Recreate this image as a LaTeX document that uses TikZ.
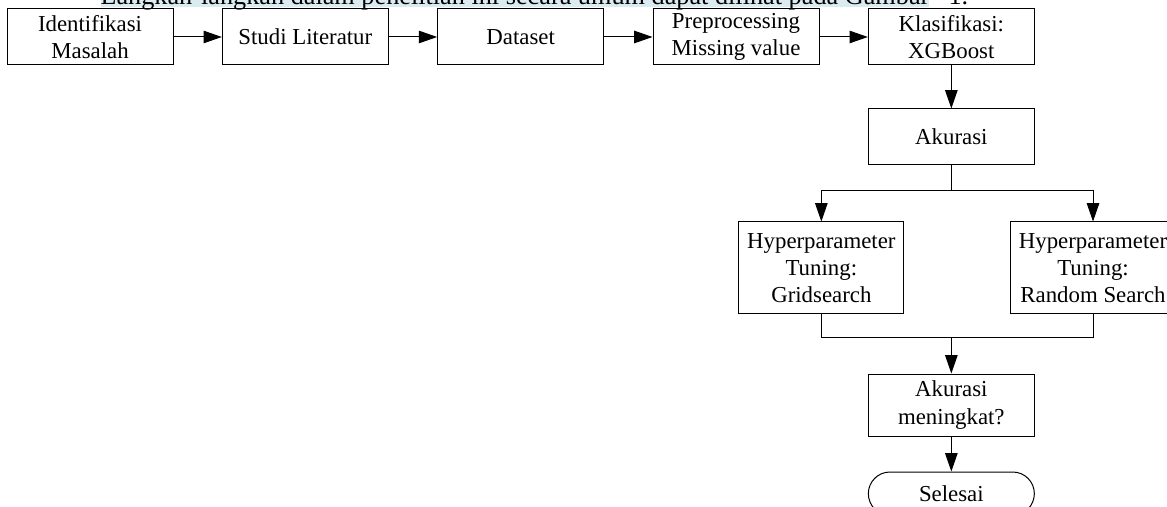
\documentclass[tikz,border=0pt]{standalone}
\usepackage{fontspec}
\setmainfont{Liberation Serif}
\usetikzlibrary{positioning, arrows.meta, calc}
\definecolor{hilite}{RGB}{218,235,241}

\begin{document}
\begin{tikzpicture}[node distance=29pt, line width=0.6pt,
    box/.style={draw, rectangle, minimum width=99.6pt, minimum height=33.6pt,
      align=center, inner sep=2pt, font=\fontsize{13.7}{16.3}\selectfont},
    endbox/.style={box, rounded corners=13pt, minimum height=26pt},
    arr/.style={-{Triangle[length=11pt,width=7.5pt]}}]
  \useasboundingbox (0,0) rectangle (700.2pt,-304.2pt);

  % cut-off sentence above the chart
  \node[anchor=base west, fill=hilite, inner xsep=0pt, inner ysep=1.5pt,
    text depth=0pt, font=\fontsize{15.75}{18}\selectfont] (intro) at (60pt,-3pt)
    {Langkah-langkah dalam penelitian ini secara umum dapat dilihat pada Gambar};
  \node[anchor=base west, inner sep=0pt, font=\fontsize{15.75}{18}\selectfont]
    (introref) at (568.8pt,-3pt) {1.};

  % top row
  \node[box] (ident) at (54pt,-22.2pt) {Identifikasi\\Masalah};
  \node[box, right=of ident] (studi) {Studi Literatur};
  \node[box, right=of studi] (data) {Dataset};
  \node[box, right=of data] (prep) {Preprocessing\\Missing value};
  \node[box, right=of prep] (klas) {Klasifikasi:\\XGBoost};

  % right column
  \node[box, below=25.8pt of klas] (akurasi) {Akurasi};
  \node[box, minimum width=99pt, minimum height=55.2pt, below=33.6pt of akurasi,
    xshift=-78pt] (grid) {Hyperparameter\\Tuning:\\Gridsearch};
  \node[box, minimum width=99pt, minimum height=55.2pt, below=33.6pt of akurasi,
    xshift=85pt] (random) {Hyperparameter\\Tuning:\\Random Search};
  \node[box, minimum height=37.2pt, below=124.8pt of akurasi] (naik) {Akurasi\\meningkat?};
  \node[endbox, below=21pt of naik] (selesai) {Selesai};

  \coordinate[below=15pt of akurasi] (split);
  \coordinate[above=21.6pt of naik] (merge);

  \draw[arr] (ident) -- (studi);
  \draw[arr] (studi) -- (data);
  \draw[arr] (data) -- (prep);
  \draw[arr] (prep) -- (klas);
  \draw[arr] (klas) -- (akurasi);
  \draw (akurasi) -- (split);
  \draw[arr] (split) -| (grid);
  \draw[arr] (split) -| (random);
  \draw (grid) |- (merge) -| (random);
  \draw[arr] (merge) -- (naik);
  \draw[arr] (naik) -- (selesai);
\end{tikzpicture}
\end{document}
